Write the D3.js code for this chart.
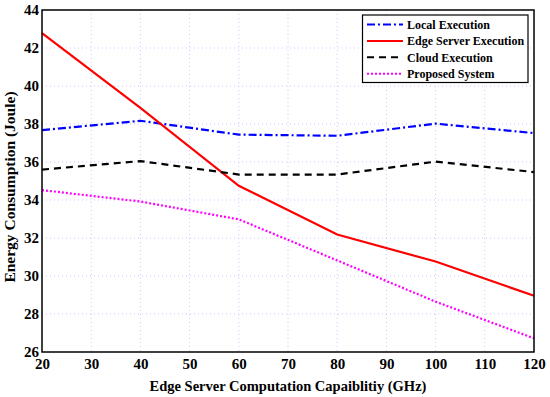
<!DOCTYPE html>
<html>
<head>
<meta charset="utf-8">
<script src="https://cdn.jsdelivr.net/npm/d3@7"></script>
<style>
  body { margin: 0; background: #fff; }
  text { font-family: "Liberation Serif", "Times New Roman", serif; font-weight: bold; }
</style>
</head>
<body>
<svg width="550" height="397"></svg>
<script>
var capability = [20, 40, 60, 80, 100, 120];
var localExec = [37.68, 38.17, 37.44, 37.38, 38.02, 37.52];
var edgeExec = [42.78, 38.85, 34.75, 32.18, 30.76, 28.96];
var cloudExec = [35.6, 36.05, 35.34, 35.34, 36.02, 35.47];
var proposed = [34.52, 33.92, 32.98, 30.82, 28.65, 26.72];
var xTicks = [20, 30, 40, 50, 60, 70, 80, 90, 100, 110, 120];
var yTicks = [26, 28, 30, 32, 34, 36, 38, 40, 42, 44];

var series = [
  {name: "Local Execution", values: localExec, color: "#0000ff", dash: "8,3,2,3"},
  {name: "Edge Server Execution", values: edgeExec, color: "#ff0000", dash: null},
  {name: "Cloud Execution", values: cloudExec, color: "#000000", dash: "7,5"},
  {name: "Proposed System", values: proposed, color: "#ff00ff", dash: "2,2"}
];

var svg = d3.select("svg");
var plotL = 42, plotR = 534, plotT = 10, plotB = 352;

var x = d3.scaleLinear().domain([20, 120]).range([plotL, plotR]);
var y = d3.scaleLinear().domain([26, 44]).range([plotB, plotT]);

// grid
var grid = svg.append("g").attr("stroke", "#c8c8ff").attr("stroke-width", 1).attr("stroke-dasharray", "1,3");
grid.selectAll("line.vx").data(xTicks.slice(1, -1)).enter().append("line")
  .attr("x1", d => x(d)).attr("x2", d => x(d)).attr("y1", plotT).attr("y2", plotB);
grid.selectAll("line.hy").data(yTicks.slice(1, -1)).enter().append("line")
  .attr("y1", d => y(d)).attr("y2", d => y(d)).attr("x1", plotL).attr("x2", plotR);

// axes
svg.append("g")
  .attr("transform", "translate(0," + plotB + ")")
  .call(d3.axisBottom(x).tickValues(xTicks).tickSize(0).tickPadding(6))
  .call(g => g.select(".domain").remove())
  .selectAll("text").attr("font-size", 15).attr("fill", "#000");

svg.append("g")
  .attr("transform", "translate(" + plotL + ",0)")
  .call(d3.axisLeft(y).tickValues(yTicks).tickSize(0).tickPadding(3))
  .call(g => g.select(".domain").remove())
  .selectAll("text").attr("font-size", 15).attr("fill", "#000");

var line = d3.line()
  .x((d, i) => x(capability[i]))
  .y(d => y(d));

svg.append("g").selectAll("path").data(series).enter().append("path")
  .attr("d", d => line(d.values))
  .attr("fill", "none")
  .attr("stroke", d => d.color)
  .attr("stroke-width", 2.2)
  .attr("stroke-dasharray", d => d.dash);

// frame
svg.append("rect")
  .attr("x", plotL).attr("y", plotT)
  .attr("width", plotR - plotL).attr("height", plotB - plotT)
  .attr("fill", "none").attr("stroke", "#000").attr("stroke-width", 1.5);

// legend
var lg = svg.append("g");
lg.append("rect")
  .attr("x", 362.5).attr("y", 15).attr("width", 165.5).attr("height", 67.5)
  .attr("fill", "#fff").attr("stroke", "#000").attr("stroke-width", 1.2);
var item = lg.selectAll("g.item").data(series).enter().append("g")
  .attr("transform", (d, i) => "translate(0," + (24.5 + i * 16.4) + ")");
item.append("line")
  .attr("x1", 367).attr("x2", 403).attr("y1", 0).attr("y2", 0)
  .attr("stroke", d => d.color).attr("stroke-width", 2)
  .attr("stroke-dasharray", d => d.dash);
item.append("text")
  .attr("x", 407).attr("y", 4.5)
  .attr("font-size", 12)
  .text(d => d.name);

// titles
svg.append("text")
  .attr("x", (plotL + plotR) / 2).attr("y", 391)
  .attr("text-anchor", "middle").attr("font-size", 14.5)
  .text("Edge Server Computation Capaiblitiy (GHz)");

svg.append("text")
  .attr("transform", "translate(15,187) rotate(-90)")
  .attr("text-anchor", "middle").attr("font-size", 15.5)
  .text("Energy Consumption (Joule)");
</script>
</body>
</html>
